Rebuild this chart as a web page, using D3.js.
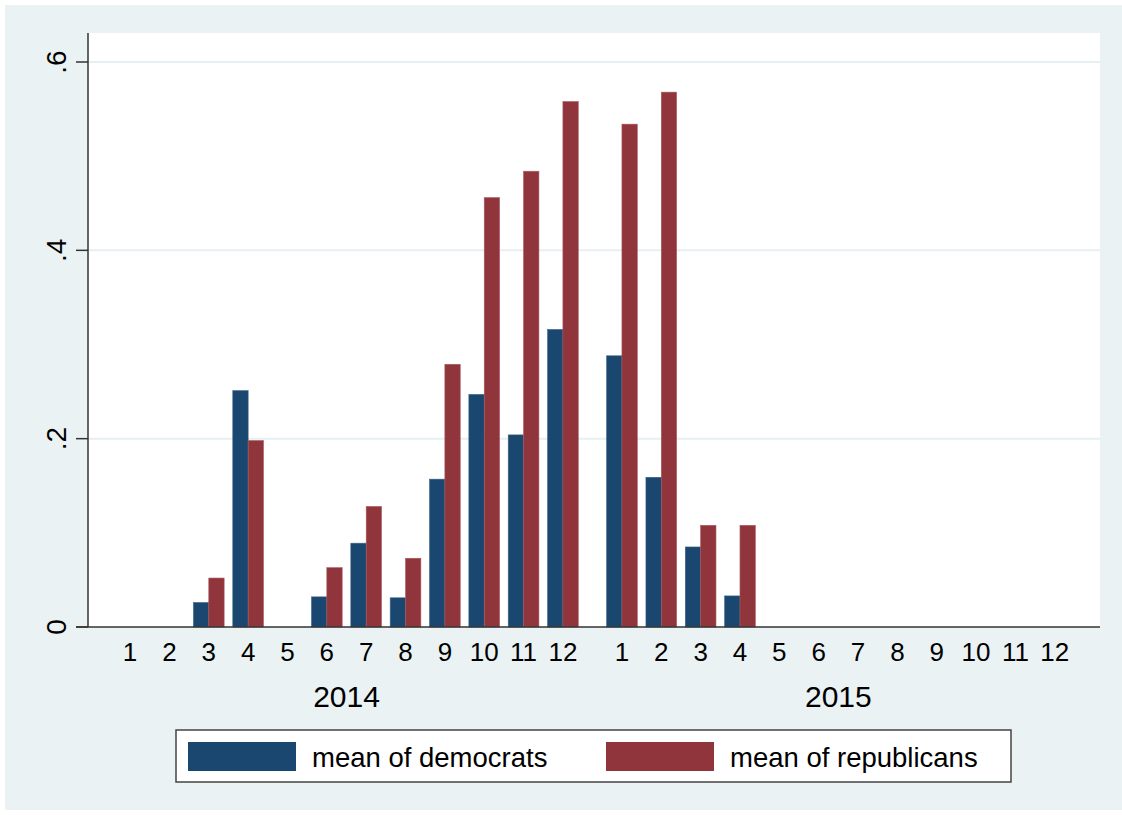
<!DOCTYPE html>
<html>
<head>
<meta charset="utf-8">
<script src="https://cdn.jsdelivr.net/npm/d3@7"></script>
<style>
  body { margin: 0; background: #fff; }
  svg { display: block; font-family: "Liberation Sans", Arial, Helvetica, sans-serif; }
</style>
</head>
<body>
<div id="chart"></div>
<script>
// data
const years = ["2014", "2015"];
const months = ["1", "2", "3", "4", "5", "6", "7", "8", "9", "10", "11", "12"];
const dem2014 = [null, null, 0.026, 0.251, null, 0.032, 0.089, 0.031, 0.157, 0.247, 0.204, 0.316];
const rep2014 = [null, null, 0.052, 0.198, null, 0.063, 0.128, 0.073, 0.279, 0.456, 0.484, 0.558];
const dem2015 = [0.288, 0.159, 0.085, 0.033, null, null, null, null, null, null, null, null];
const rep2015 = [0.534, 0.568, 0.108, 0.108, null, null, null, null, null, null, null, null];
const yTicks = [0, 0.2, 0.4, 0.6];
const yTickLabels = ["0", ".2", ".4", ".6"];
const seriesNames = ["mean of democrats", "mean of republicans"];
const colors = ["#1a476f", "#90353b"];

const width = 1122, height = 815;
const plot = { left: 88, right: 1100, top: 33, bottom: 627 };

// flatten into rows: slot index (gap of half a slot between the years)
const rows = [];
[[dem2014, rep2014], [dem2015, rep2015]].forEach((pair, yi) => {
    months.forEach((m, mi) => {
        rows.push({ year: years[yi], month: m, idx: mi + yi * 12.5, dem: pair[0][mi], rep: pair[1][mi] });
    });
});

const x = d3.scaleLinear().domain([-1.07, 24.65]).range([plot.left, plot.right]);
const y = d3.scaleLinear().domain([0, 0.6]).range([plot.bottom, 62]);
const slot = x(1) - x(0);
const barW = slot * 0.39;

const svg = d3.select("#chart").append("svg")
    .attr("width", width)
    .attr("height", height);

// outer background
svg.append("rect")
    .attr("x", 5).attr("y", 5)
    .attr("width", width - 5).attr("height", 805)
    .attr("fill", "#eaf2f3");

// plot region
svg.append("rect")
    .attr("x", plot.left).attr("y", plot.top)
    .attr("width", plot.right - plot.left).attr("height", plot.bottom - plot.top)
    .attr("fill", "#fff");

// gridlines
svg.append("g")
    .selectAll("line")
    .data(yTicks.filter(d => d > 0))
    .enter().append("line")
    .attr("x1", plot.left).attr("x2", plot.right)
    .attr("y1", d => y(d)).attr("y2", d => y(d))
    .attr("stroke", "#e6eff1")
    .attr("stroke-width", 2);

// bars
const keys = ["dem", "rep"];
keys.forEach((k, ki) => {
    svg.append("g")
        .selectAll("rect")
        .data(rows.filter(d => d[k] != null))
        .enter().append("rect")
        .attr("x", d => x(d.idx) - barW + ki * barW)
        .attr("y", d => y(d[k]))
        .attr("width", barW)
        .attr("height", d => y(0) - y(d[k]))
        .attr("fill", colors[ki])
        .attr("stroke", ki === 0 ? "#3d6487" : "#a85a60")
        .attr("stroke-width", 0.6);
});

// y axis
const yAxis = svg.append("g");
yAxis.append("line")
    .attr("x1", plot.left).attr("x2", plot.left)
    .attr("y1", plot.top).attr("y2", plot.bottom)
    .attr("stroke", "#333").attr("stroke-width", 1.5);
yAxis.selectAll(".tick")
    .data(yTicks)
    .enter().append("line")
    .attr("x1", 76).attr("x2", plot.left)
    .attr("y1", d => y(d)).attr("y2", d => y(d))
    .attr("stroke", "#333").attr("stroke-width", 1.5);
yAxis.selectAll("text")
    .data(yTicks)
    .enter().append("text")
    .attr("transform", d => `translate(66,${y(d)}) rotate(-90)`)
    .attr("text-anchor", "middle")
    .attr("font-size", "28px")
    .attr("fill", "#000")
    .text((d, i) => yTickLabels[i]);

// x axis line
svg.append("line")
    .attr("x1", 76).attr("x2", plot.right)
    .attr("y1", plot.bottom).attr("y2", plot.bottom)
    .attr("stroke", "#333").attr("stroke-width", 1.5);

// month labels
svg.append("g")
    .selectAll("text")
    .data(rows)
    .enter().append("text")
    .attr("x", d => x(d.idx))
    .attr("y", 661)
    .attr("text-anchor", "middle")
    .attr("font-size", "26px")
    .attr("fill", "#000")
    .text(d => d.month);

// year labels
svg.append("g")
    .selectAll("text")
    .data(years)
    .enter().append("text")
    .attr("x", (d, i) => (x(i * 12.5) + x(i * 12.5 + 11)) / 2)
    .attr("y", 707)
    .attr("text-anchor", "middle")
    .attr("font-size", "30px")
    .attr("fill", "#000")
    .text(d => d);

// legend
const legend = svg.append("g");
legend.append("rect")
    .attr("x", 176).attr("y", 730)
    .attr("width", 835).attr("height", 52)
    .attr("fill", "#fff")
    .attr("stroke", "#444").attr("stroke-width", 1.5);
const legendX = [188, 606];
seriesNames.forEach((name, i) => {
    legend.append("rect")
        .attr("x", legendX[i]).attr("y", 742)
        .attr("width", 108).attr("height", 29)
        .attr("fill", colors[i]);
    legend.append("text")
        .attr("x", legendX[i] + 124).attr("y", 767)
        .attr("font-size", "27.5px")
        .attr("fill", "#000")
        .text(name);
});
</script>
</body>
</html>
